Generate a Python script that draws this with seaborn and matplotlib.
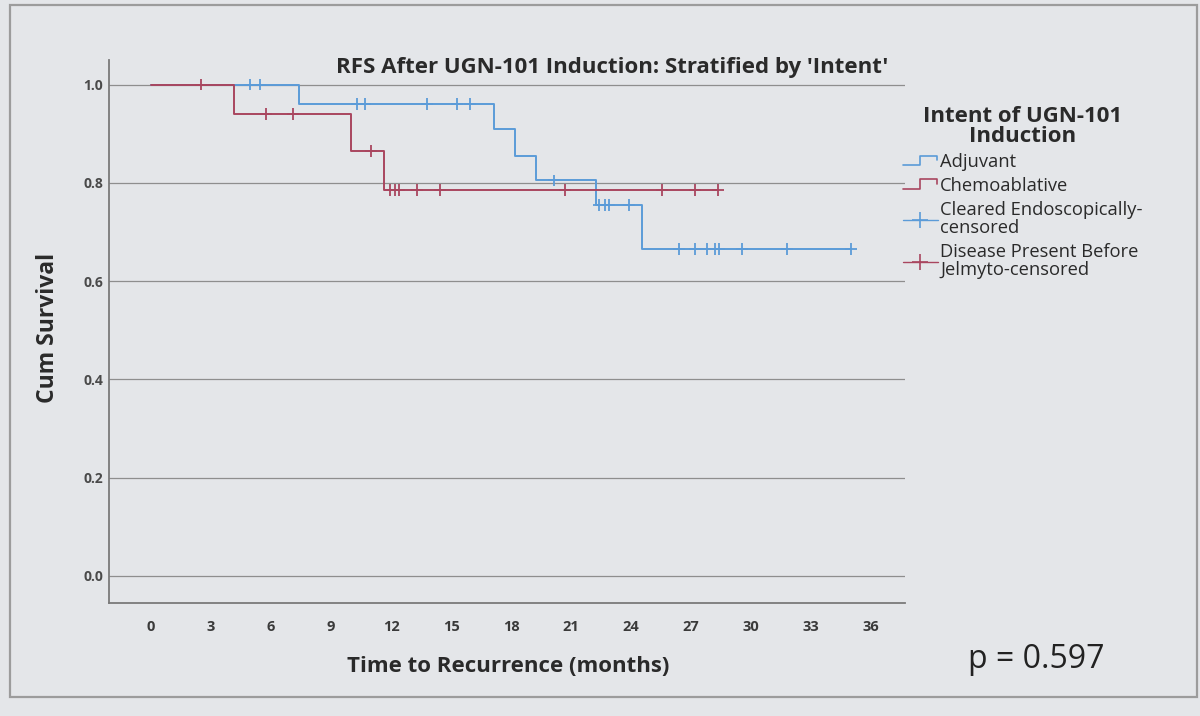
import numpy as np
import pandas as pd
import matplotlib
matplotlib.use("Agg")
import matplotlib.pyplot as plt
import seaborn as sns
from matplotlib.lines import Line2D
from matplotlib.patches import Rectangle
from matplotlib.legend_handler import HandlerBase

# ---------------- data ----------------
groups = ["Adjuvant", "Chemoablative"]

adj_step_times = [0.0, 7.4, 17.15, 18.2, 19.25, 22.25, 24.55]
adj_step_surv = [1.0, 0.96, 0.91, 0.855, 0.805, 0.755, 0.665]
adj_end = 35.0
adj_censor = [4.95, 5.45, 10.3, 10.7, 13.8, 15.3, 15.95, 20.15, 22.4, 22.7,
              22.9, 23.9, 26.4, 27.2, 27.8, 28.2, 28.4, 29.55, 31.8, 35.0]

chemo_step_times = [0.0, 4.15, 10.0, 11.65]
chemo_step_surv = [1.0, 0.94, 0.865, 0.785]
chemo_end = 28.35
chemo_censor = [2.5, 5.75, 7.1, 11.0, 11.95, 12.2, 12.4, 13.3, 14.45,
                20.7, 25.55, 27.2, 28.35]

x_ticks = [0, 3, 6, 9, 12, 15, 18, 21, 24, 27, 30, 33, 36]
y_ticks = [0.0, 0.2, 0.4, 0.6, 0.8, 1.0]
y_tick_labels = ["0.0", "0.2", "0.4", "0.6", "0.8", "1.0"]

legend_labels = ["Adjuvant", "Chemoablative",
                 "Cleared Endoscopically-\ncensored",
                 "Disease Present Before\nJelmyto-censored"]
p_text = "p = 0.597"

# ---------------- build frames ----------------
def step_frame(name, times, surv, end):
    t = list(times) + [end]
    s = list(surv) + [surv[-1]]
    return pd.DataFrame({"time": t, "surv": s, "group": name})

def censor_frame(name, times, surv, cens):
    idx = np.searchsorted(np.array(times), np.array(cens), side="right") - 1
    return pd.DataFrame({"time": cens, "surv": np.array(surv)[idx], "group": name})

steps = pd.concat([step_frame("Adjuvant", adj_step_times, adj_step_surv, adj_end),
                   step_frame("Chemoablative", chemo_step_times, chemo_step_surv, chemo_end)],
                  ignore_index=True)
cens = pd.concat([censor_frame("Adjuvant", adj_step_times, adj_step_surv, adj_censor),
                  censor_frame("Chemoablative", chemo_step_times, chemo_step_surv, chemo_censor)],
                 ignore_index=True)

# ---------------- style ----------------
BG = "#e4e6e9"
BLUE = "#5b9bd8"
RED = "#a9465f"
TXT = "#2a2a2a"
palette = {"Adjuvant": BLUE, "Chemoablative": RED}

sns.set_theme(style="white")
plt.rcParams["font.family"] = ["Open Sans", "DejaVu Sans"]

fig = plt.figure(figsize=(12, 7.16), dpi=100, facecolor=BG)
ax = fig.add_axes([109/1200, 1-603/716, (905-109)/1200, (603-60)/716])
ax.set_facecolor(BG)

for y in y_ticks:
    ax.axhline(y, color="#8e8e8e", lw=0.9, zorder=1)

sns.lineplot(data=steps, x="time", y="surv", hue="group", palette=palette,
             drawstyle="steps-post", estimator=None, sort=False, lw=1.4,
             legend=False, ax=ax, zorder=3)
sns.scatterplot(data=cens, x="time", y="surv", hue="group", palette=palette,
                marker="+", s=70, linewidth=1.3, legend=False, ax=ax, zorder=4)

ax.set_xlim(-2.1, 37.7)
ax.set_ylim(-0.055, 1.05)
ax.set_xticks(x_ticks)
ax.set_xticklabels([str(v) for v in x_ticks], fontsize=10.5, color="#3a3a3a",
                   fontweight="bold")
ax.set_yticks(y_ticks)
ax.set_yticklabels(y_tick_labels, fontsize=10, color="#4a4a4a", fontweight="bold")
ax.tick_params(axis="both", length=0)
ax.tick_params(axis="y", pad=4)
ax.tick_params(axis="x", pad=12)
for side in ["top", "right"]:
    ax.spines[side].set_visible(False)
for side in ["left", "bottom"]:
    ax.spines[side].set_color("#7a7a7a")
    ax.spines[side].set_linewidth(1.3)
ax.set_xlabel("")
ax.set_ylabel("")

fig.text(612/1200, 1-67/716, "RFS After UGN-101 Induction: Stratified by 'Intent'",
         ha="center", va="center", fontsize=16, fontweight="bold", color=TXT)
fig.text(508/1200, 1-666/716, "Time to Recurrence (months)", ha="center",
         va="center", fontsize=16, fontweight="bold", color=TXT)
fig.text(48/1200, 1-328/716, "Cum Survival", ha="center", va="center",
         rotation=90, fontsize=16.5, fontweight="bold", color=TXT)
fig.text(1036/1200, 1-660/716, p_text, ha="center", va="center",
         fontsize=23, color="#222222")

# ---------------- legend ----------------
class StepHandler(HandlerBase):
    def create_artists(self, legend, orig_handle, xdescent, ydescent,
                       width, height, fontsize, trans):
        x0, y0 = -xdescent, -ydescent
        xs = [x0, x0 + 0.5*width, x0 + 0.5*width, x0 + 0.97*width, x0 + 0.97*width]
        ys = [y0 + 0.15*height, y0 + 0.15*height, y0 + 0.9*height,
              y0 + 0.9*height, y0 + 0.55*height]
        ln = Line2D(xs, ys, color=orig_handle.get_color(), lw=1.2, transform=trans)
        return [ln]

h_adj = Line2D([], [], color=BLUE)
h_chemo = Line2D([], [], color=RED)
h_adj_c = Line2D([], [], color=BLUE, lw=1.0, marker="+", markersize=12, markeredgewidth=1.2)
h_chemo_c = Line2D([], [], color=RED, lw=1.0, marker="+", markersize=12, markeredgewidth=1.2)

leg = fig.legend([h_adj, h_chemo, h_adj_c, h_chemo_c], legend_labels,
                 handler_map={h_adj: StepHandler(), h_chemo: StepHandler()},
                 loc="upper left", bbox_to_anchor=(903/1200, 1-106/716),
                 frameon=False, fontsize=13.2, title="Intent of UGN-101\nInduction",
                 title_fontproperties={"weight": "bold", "size": 16},
                 handlelength=1.9, handletextpad=0.12, labelspacing=0.32,
                 borderaxespad=0, borderpad=0)
for t in leg.get_texts():
    t.set_color(TXT)
    t.set_linespacing(1.02)
leg.get_title().set_color(TXT)
leg.get_title().set_multialignment("center")
leg.get_title().set_linespacing(0.95)

fig.patches.append(Rectangle((10/1200, 1-697/716), (1197-10)/1200, (697-5)/716,
                             transform=fig.transFigure, fill=False,
                             ec="#9c9c9c", lw=1.6))

fig.savefig("out.png", dpi=100, facecolor=BG)
